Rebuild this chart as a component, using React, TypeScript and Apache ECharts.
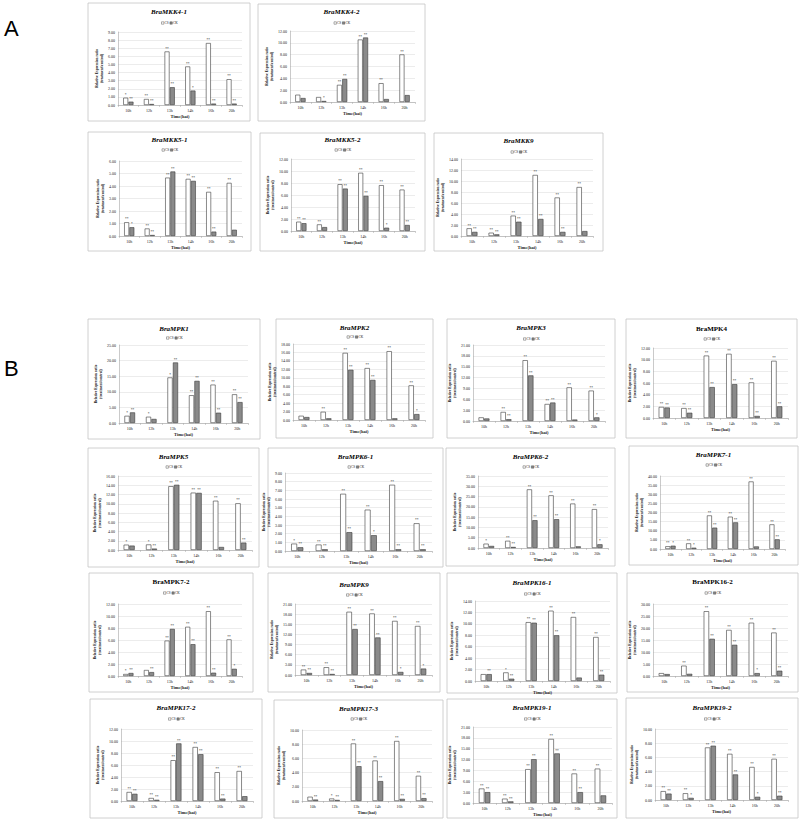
import React, { useEffect, useRef } from 'react';
import * as echarts from 'echarts';

// ---------- DATA ----------
const categories = ['10h', '12h', '13h', '14h', '16h', '20h'];
const legendNames = ['CS', 'CK'];

const titles = [
  'BraMKK4-1', 'BraMKK4-2', 'BraMKK5-1', 'BraMKK5-2', 'BraMKK9',
  'BraMPK1', 'BraMPK2', 'BraMPK3', 'BraMPK4',
  'BraMPK5', 'BraMPK6-1', 'BraMPK6-2', 'BraMPK7-1',
  'BraMPK7-2', 'BraMPK9', 'BraMPK16-1', 'BraMPK16-2',
  'BraMPK17-2', 'BraMPK17-3', 'BraMPK19-1', 'BraMPK19-2',
];

const yMaxList = [9, 12, 6, 12, 14, 25, 18, 21, 12, 16, 9, 35, 40, 12, 21, 14, 30, 12, 10, 21, 10];
const yIntervalList = [1, 2, 1, 2, 2, 5, 2, 3, 2, 2, 1, 5, 5, 2, 3, 2, 5, 2, 2, 3, 2];

const MKK4_1_CS = [0.9, 0.74, 6.6, 4.75, 7.64, 3.18];
const MKK4_1_CK = [0.41, 0.12, 2.19, 1.78, 0.17, 0.17];
const MKK4_2_CS = [1.23, 0.84, 2.9, 10.56, 3.18, 8.04];
const MKK4_2_CK = [0.67, 0.17, 3.9, 10.9, 0.5, 1.17];
const MKK5_1_CS = [1.1, 0.6, 4.67, 4.57, 3.53, 4.25];
const MKK5_1_CK = [0.7, 0.08, 5.16, 4.41, 0.35, 0.5];
const MKK5_2_CS = [1.55, 1.1, 7.8, 9.7, 7.64, 6.9];
const MKK5_2_CK = [1.3, 0.65, 7.07, 5.86, 0.55, 1.0];
const MKK9_CS = [1.4, 0.6, 3.7, 11.1, 7.0, 8.9];
const MKK9_CK = [0.75, 0.3, 2.6, 3.1, 0.75, 0.9];
const MPK1_CS = [2.3, 2.0, 14.6, 8.9, 12.3, 9.2];
const MPK1_CK = [3.4, 1.3, 19.4, 13.5, 3.3, 6.7];
const MPK2_CS = [1.0, 1.95, 15.9, 12.3, 16.3, 8.2];
const MPK2_CK = [0.7, 0.4, 11.9, 9.5, 0.4, 1.4];
const MPK3_CS = [1.0, 2.5, 16.8, 4.7, 9.3, 8.4];
const MPK3_CK = [0.7, 0.5, 12.6, 5.1, 0.4, 1.0];
const MPK4_CS = [1.9, 1.7, 10.7, 11.0, 6.1, 9.8];
const MPK4_CK = [1.8, 0.9, 5.3, 5.8, 0.35, 2.0];
const MPK5_CS = [1.15, 1.2, 13.8, 12.4, 10.65, 10.1];
const MPK5_CK = [0.95, 0.3, 14.1, 12.35, 0.65, 1.6];
const MPK6_1_CS = [0.85, 0.74, 6.6, 4.77, 7.64, 3.2];
const MPK6_1_CK = [0.43, 0.2, 2.17, 1.82, 0.2, 0.2];
const MPK6_2_CS = [2.1, 3.5, 28.5, 25.6, 21.6, 18.9];
const MPK6_2_CK = [1.0, 0.5, 13.5, 14.0, 0.8, 1.8];
const MPK7_1_CS = [1.5, 3.1, 18.4, 17.7, 37.0, 13.5];
const MPK7_1_CK = [1.8, 0.7, 11.7, 14.6, 1.4, 5.3];
const MPK7_2_CS = [0.33, 1.0, 5.9, 8.2, 10.8, 6.1];
const MPK7_2_CK = [0.5, 0.65, 7.85, 5.3, 0.55, 1.2];
const MPK9_CS = [1.6, 2.3, 18.7, 18.2, 16.0, 14.5];
const MPK9_CK = [0.6, 0.3, 13.6, 11.1, 0.9, 1.9];
const MPK16_1_CS = [1.2, 1.5, 10.3, 12.3, 11.2, 7.7];
const MPK16_1_CK = [1.2, 0.4, 10.2, 8.0, 0.6, 1.1];
const MPK16_2_CS = [1.2, 4.3, 27.0, 19.2, 22.2, 18.1];
const MPK16_2_CK = [0.8, 0.9, 15.5, 13.0, 1.2, 2.2];
const MPK17_2_CS = [1.5, 0.5, 6.8, 9.0, 4.8, 5.0];
const MPK17_2_CK = [1.2, 0.2, 9.6, 7.8, 0.4, 0.8];
const MPK17_3_CS = [0.6, 0.35, 8.1, 5.7, 8.45, 3.55];
const MPK17_3_CK = [0.2, 0.15, 4.9, 2.8, 0.3, 0.4];
const MPK19_1_CS = [4.0, 1.2, 9.35, 17.7, 8.15, 9.5];
const MPK19_1_CK = [3.0, 0.45, 12.1, 13.7, 3.0, 2.1];
const MPK19_2_CS = [1.25, 0.95, 7.4, 6.5, 4.65, 5.8];
const MPK19_2_CK = [0.9, 0.3, 7.65, 3.6, 0.45, 0.6];

const csValues = [MKK4_1_CS, MKK4_2_CS, MKK5_1_CS, MKK5_2_CS, MKK9_CS, MPK1_CS, MPK2_CS, MPK3_CS, MPK4_CS,
  MPK5_CS, MPK6_1_CS, MPK6_2_CS, MPK7_1_CS, MPK7_2_CS, MPK9_CS, MPK16_1_CS, MPK16_2_CS,
  MPK17_2_CS, MPK17_3_CS, MPK19_1_CS, MPK19_2_CS];
const ckValues = [MKK4_1_CK, MKK4_2_CK, MKK5_1_CK, MKK5_2_CK, MKK9_CK, MPK1_CK, MPK2_CK, MPK3_CK, MPK4_CK,
  MPK5_CK, MPK6_1_CK, MPK6_2_CK, MPK7_1_CK, MPK7_2_CK, MPK9_CK, MPK16_1_CK, MPK16_2_CK,
  MPK17_2_CK, MPK17_3_CK, MPK19_1_CK, MPK19_2_CK];

// significance marks above each bar
const csSig = [
  ['*', '**', '**', '**', '**', '**'], ['', '', '**', '**', '**', '**'], ['**', '**', '**', '**', '**', '**'],
  ['**', '**', '**', '**', '**', '**'], ['**', '**', '**', '**', '**', '**'], ['*', '*', '*', '**', '**', '**'],
  ['', '**', '**', '**', '**', '**'], ['', '**', '**', '**', '**', '**'], ['**', '**', '**', '**', '**', '**'],
  ['*', '*', '**', '**', '**', '**'], ['*', '**', '**', '**', '**', '**'], ['*', '**', '**', '**', '**', '**'],
  ['**', '**', '**', '**', '**', '**'], ['*', '', '**', '**', '**', '**'], ['**', '**', '**', '**', '**', '**'],
  ['', '*', '**', '**', '**', '**'], ['', '**', '**', '**', '**', '**'], ['**', '**', '**', '**', '**', '**'],
  ['', '*', '**', '**', '**', '**'], ['**', '**', '**', '**', '**', '**'], ['**', '**', '**', '**', '**', '**'],
];
const ckSig = [
  ['**', '**', '**', '*', '**', '**'], ['', '*', '**', '**', '', ''], ['*', '**', '**', '**', '**', ''],
  ['**', '', '**', '**', '*', '**'], ['**', '**', '**', '**', '**', ''], ['**', '', '**', '**', '**', '**'],
  ['', '', '**', '**', '', '*'], ['', '**', '**', '**', '', '*'], ['**', '**', '**', '**', '**', '**'],
  ['', '**', '**', '**', '', '**'], ['**', '**', '**', '*', '**', '**'], ['', '**', '**', '**', '', '*'],
  ['*', '*', '**', '**', '', '**'], ['**', '**', '**', '**', '**', '*'], ['**', '**', '**', '**', '*', '*'],
  ['**', '**', '**', '**', '', '**'], ['', '', '**', '**', '*', '**'], ['**', '**', '**', '**', '**', ''],
  ['**', '**', '**', '**', '**', '**'], ['**', '**', '**', '**', '**', ''], ['**', '*', '**', '**', '*', '**'],
];

// ---------- LAYOUT ----------
// box: [x, y, w, h]; plot: [left, top, right, bottom]; [titleY, legendY]; italic title
const boxes = [
  [88, 3, 162, 118], [258, 4, 167, 117], [88, 132, 163, 119], [260, 133, 165, 118], [434, 133, 169, 118],
  [88, 319, 172, 120], [276, 319, 157, 119], [447, 319, 168, 119], [626, 319, 171, 119],
  [88, 448, 171, 119], [268, 448, 175, 119], [446, 448, 169, 118], [629, 446, 169, 119],
  [89, 573, 164, 119], [268, 573, 172, 119], [447, 573, 170, 120], [627, 573, 171, 119],
  [90, 699, 172, 119], [274, 700, 169, 118], [447, 699, 170, 119], [626, 698, 172, 120],
];
const plots = [
  [118, 32, 242, 105], [290, 31, 415, 102], [119, 161, 242, 236], [291, 159, 415, 231], [461, 159, 593, 236],
  [119, 345, 248, 423], [293, 344, 425, 420], [473, 345, 605, 421], [653, 348, 788, 418],
  [118, 476, 252, 550], [285, 473, 432, 551], [478, 476, 608, 548], [660, 476, 785, 549],
  [118, 604, 242, 676], [295, 604, 432, 675], [475, 601, 610, 681], [653, 604, 788, 676],
  [121, 729, 253, 801], [302, 730, 432, 801], [473, 727, 612, 803], [655, 729, 788, 800],
];
const textRows = [
  [12, 23], [12, 23], [140, 150], [140, 150], [141, 152],
  [329, 338], [328, 337], [328, 339], [329, 339],
  [457, 467], [457, 467], [457, 467], [455, 465],
  [582, 593], [585, 595], [583, 594], [582, 593],
  [708, 719], [709, 719], [708, 719], [708, 719],
];
const italicTitle = [true, true, true, true, true, true, true, true, false, true, true, true, true,
  false, true, true, false, true, true, true, true];

const SERIF = '"Liberation Serif", "Times New Roman", serif';

function buildOption() {
  const grid: any[] = [];
  const xAxis: any[] = [];
  const yAxis: any[] = [];
  const series: any[] = [];
  const graphic: any[] = [];

  titles.forEach((title, i) => {
    const p = plots[i];
    grid.push({ left: p[0], top: p[1], width: p[2] - p[0], height: p[3] - p[1], containLabel: false });
    xAxis.push({
      type: 'category', gridIndex: i, data: categories,
      axisLine: { lineStyle: { color: '#a6a6a6', width: 0.6 } },
      axisTick: { show: true, length: 2, lineStyle: { color: '#a6a6a6', width: 0.5 } },
      axisLabel: { fontSize: 4, margin: 3, color: '#222', fontFamily: SERIF },
      name: 'Time(hai)', nameLocation: 'middle', nameGap: 9,
      nameTextStyle: { fontSize: 4.5, fontWeight: 'bold', color: '#222', fontFamily: SERIF },
    });
    yAxis.push({
      type: 'value', gridIndex: i, min: 0, max: yMaxList[i], interval: yIntervalList[i],
      axisLine: { show: true, lineStyle: { color: '#a6a6a6', width: 0.6 } },
      axisTick: { show: false },
      axisLabel: {
        fontSize: 4, margin: 3, color: '#222', fontFamily: SERIF,
        formatter: (v: number) => v.toFixed(2),
      },
      splitLine: { lineStyle: { color: '#d9d9d9', width: 0.5 } },
      name: 'Relative Expression ratio\n(treatment/control)', nameLocation: 'middle', nameGap: 14,
      nameTextStyle: { fontSize: 3.6, lineHeight: 4.5, fontWeight: 'bold', color: '#222', fontFamily: SERIF },
    });
    const sigLabel = (sig: string[]) => ({
      show: true, position: 'top', distance: 0.8, fontSize: 3.5, color: '#222', fontFamily: SERIF,
      formatter: (prm: any) => sig[prm.dataIndex],
    });
    series.push({
      type: 'bar', name: legendNames[0], xAxisIndex: i, yAxisIndex: i, data: csValues[i],
      barWidth: '24%', barGap: '6%',
      itemStyle: { color: '#ffffff', borderColor: '#3a3a3a', borderWidth: 0.6 },
      label: sigLabel(csSig[i]),
    });
    series.push({
      type: 'bar', name: legendNames[1], xAxisIndex: i, yAxisIndex: i, data: ckValues[i],
      barWidth: '24%', barGap: '6%',
      itemStyle: { color: '#8a8a8a', borderColor: '#3a3a3a', borderWidth: 0.6 },
      label: sigLabel(ckSig[i]),
    });

    const b = boxes[i];
    const cx = b[0] + b[2] / 2;
    graphic.push({
      type: 'rect', shape: { x: b[0], y: b[1], width: b[2], height: b[3] },
      style: { fill: 'none', stroke: '#c4c4c4', lineWidth: 0.8 }, silent: true, z: -1,
    });
    graphic.push({
      type: 'text', x: cx, y: textRows[i][0],
      style: {
        text: title, fontSize: 7, fontWeight: 'bold', fontStyle: italicTitle[i] ? 'italic' : 'normal',
        fontFamily: SERIF, fill: '#000', align: 'center', verticalAlign: 'middle',
      },
    });
    const ly = textRows[i][1];
    const lx = cx - 7.5;
    graphic.push({
      type: 'group', x: lx, y: ly,
      children: [
        { type: 'rect', shape: { x: 0, y: -1.2, width: 2.4, height: 2.4 }, style: { fill: '#fff', stroke: '#333', lineWidth: 0.4 } },
        { type: 'text', x: 3, y: 0, style: { text: legendNames[0], fontSize: 3.4, fontFamily: SERIF, fill: '#222', align: 'left', verticalAlign: 'middle' } },
        { type: 'rect', shape: { x: 8.4, y: -1.2, width: 2.4, height: 2.4 }, style: { fill: '#8a8a8a', stroke: '#333', lineWidth: 0.4 } },
        { type: 'text', x: 11.4, y: 0, style: { text: legendNames[1], fontSize: 3.4, fontFamily: SERIF, fill: '#222', align: 'left', verticalAlign: 'middle' } },
      ],
    });
  });

  graphic.push({
    type: 'text', x: 4, y: 28,
    style: { text: 'A', fontSize: 22, fontFamily: '"Liberation Sans", Arial, sans-serif', fill: '#000', verticalAlign: 'middle' },
  });
  graphic.push({
    type: 'text', x: 4, y: 368,
    style: { text: 'B', fontSize: 22, fontFamily: '"Liberation Sans", Arial, sans-serif', fill: '#000', verticalAlign: 'middle' },
  });

  return {
    animation: false,
    backgroundColor: '#ffffff',
    grid, xAxis, yAxis, series, graphic,
  };
}

export default function App() {
  const ref = useRef<HTMLDivElement>(null);
  useEffect(() => {
    if (!ref.current) return;
    const chart = echarts.init(ref.current, undefined, { renderer: 'svg' });
    chart.setOption(buildOption());
    return () => chart.dispose();
  }, []);
  return (
    <div
      ref={ref}
      style={{ position: 'fixed', left: 0, top: 0, width: 800, height: 821, background: '#fff' }}
    />
  );
}
